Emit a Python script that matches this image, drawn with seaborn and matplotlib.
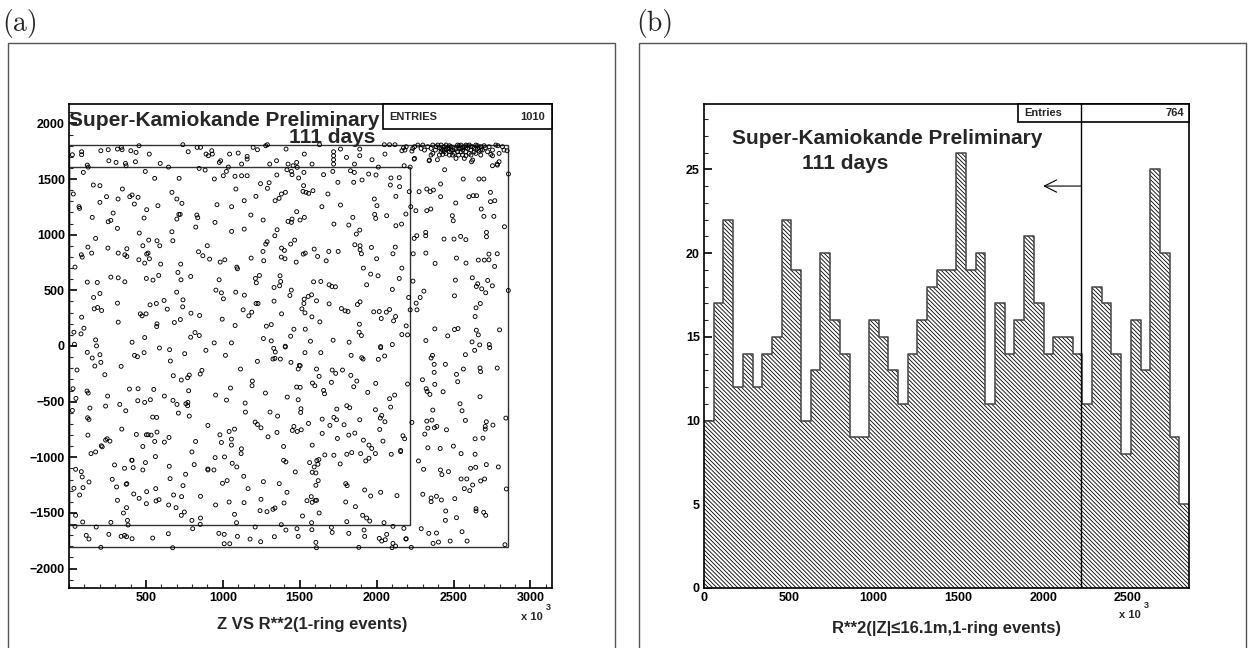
import numpy as np
import pandas as pd
import matplotlib
matplotlib.use("Agg")
import matplotlib.pyplot as plt
import seaborn as sns
from matplotlib.patches import Rectangle
from matplotlib.ticker import MultipleLocator

# ---------------- data ----------------
# Panel (a): events (R**2 [x10^3 cm^2], Z [cm]), by region
events_top = [
(22,1719),(82,1746),(82,1719),(207,1755),(255,1764),(315,1770),(341,1785),(345,1764),(402,1755),(436,1740),
(455,1800),(522,1725),(740,1809),(775,1746),(833,1785),(855,1785),(891,1725),(906,1710),(928,1755),(932,1725),
(1044,1725),(1100,1734),(1158,1704),(1158,1680),(1197,1785),(1225,1764),(1279,1800),(1290,1809),(1411,1770),
(1530,1725),(1629,1809),(1720,1746),(1720,1710),(1765,1770),(1804,1695),(1890,1770),(1890,1710),(2054,1725),
(2050,1809),(2084,1809),(2119,1809),(2164,1755),(2848,1755),(2788,1800),
(119,1626),(125,1608),(259,1665),(306,1650),(367,1641),(371,1620),(432,1656),(593,1641),(647,1608),(846,1596),
(885,1581),(977,1650),(986,1665),(1036,1608),(1122,1635),(1305,1635),(1349,1665),(1424,1635),(1457,1620),
(1480,1650),(1484,1605),(1580,1635),(1720,1674),(1720,1635),(1856,1635),(1970,1674),(2011,1608),(2179,1620),
(2218,1608),(2244,1680),(2341,1665),(2395,1674),(2442,1584),(2617,1656),(2753,1620),(2783,1635),
(93,1560),(496,1569),(557,1507),(716,1507),(945,1501),(1003,1530),(1023,1569),(1079,1525),(1122,1530),
(1158,1530),(1351,1537),(1417,1584),(1446,1569),(1450,1540),(1493,1510),(1527,1560),(1655,1540),(1715,1569),
(1830,1575),(1855,1560),(1905,1492),(1948,1546),(1996,1537),(2093,1510),(2147,1513),(2563,1501),(2665,1501),
(2697,1501),(2857,1546),
(158,1447),(201,1441),(347,1411),(669,1381),(1085,1411),(1245,1459),(1301,1468),(1290,1417),(1381,1366),
(1407,1381),(1525,1441),(1521,1390),(1541,1381),(1558,1372),(1586,1396),(1683,1366),(1748,1471),(1851,1471),
(2089,1447),(2149,1432),(2212,1387),(2276,1387),(2326,1411),(2348,1387),(2369,1402),(2416,1456),(2416,1342),
(2600,1342),(2628,1351),(2650,1351),(2740,1381),(2740,1297),(2768,1306),(28,1366),(244,1342),(395,1342),
(410,1357),(449,1336),(319,1321),(201,1291),(701,1321),(734,1282),(962,1270),(1057,1252),(1139,1306),
(1215,1345),(1340,1306),(1366,1327),(1644,1252),(1765,1267),(1985,1321),(2002,1261),(2125,1345),(2222,1252),
(2514,1285),(2680,1231),(65,1252),(69,1237),(425,1276),(578,1261),(505,1225),(287,1195),(151,1156),(255,1117),
(272,1129),(488,1150),(315,1057),(457,1015),(701,1141),(714,1183),(723,1183),(831,1177),(837,1153),(824,1069),
(949,1111),(1057,1030),(1139,1051),(1182,1177),(1262,1132),(1353,1045),(1338,991),(1424,1120),(1450,1141),
(1446,1111),(1480,1207),(1502,1132),(1530,1156),(1722,1096),(1845,1156),(1819,1087),(1868,1006),(1890,1042),
(1987,1183),(1994,1147),(2065,1171),(2125,1081),(2162,1096),(2190,1186),(2255,1216),(2326,1216),(2352,1231),
(2492,1171),(2498,1126),(2546,985),(2580,956),(2244,967),(2261,991),(2319,1021),(2319,991),(2438,961),
(2503,961),(2697,1165),(2762,1165),(2831,1072),(2714,1021),(2714,982),(173,967),(518,952),(572,946),(675,946),
(1288,937),(1467,952),(669,1027)]

events_cluster = [
(2175,1782),(2192,1791),(2184,1761),(2235,1776),(2246,1791),(2229,1752),(2268,1806),(2289,1776),(2300,1806),
(2311,1761),(2246,1686),(2332,1791),(2354,1776),(2365,1806),(2382,1761),(2365,1731),(2354,1716),(2343,1671),
(2397,1806),(2408,1782),(2419,1806),(2429,1761),(2440,1791),(2451,1806),(2462,1776),(2473,1746),(2483,1791),
(2494,1761),(2494,1716),(2505,1731),(2516,1686),(2505,1776),(2526,1806),(2537,1776),(2548,1806),(2548,1746),
(2559,1761),(2570,1791),(2580,1806),(2580,1746),(2591,1776),(2602,1806),(2602,1731),(2613,1761),(2624,1791),
(2634,1746),(2645,1806),(2656,1776),(2667,1752),(2677,1791),(2688,1761),(2706,1782),(2721,1746),(2731,1791),
(2753,1761),(2775,1806),(2796,1731),(2818,1791),(2828,1761),(2408,1716),(2429,1722),(2440,1746),(2451,1731),
(2473,1716),(2533,1716),(2559,1716),(2570,1686),(2580,1710),(2613,1716),(2624,1671),(2677,1716),(2742,1722),
(2753,1710),(2796,1656),(2785,1626),(2386,1791),(2419,1770),(2451,1770),(2473,1800),(2516,1770),(2537,1800),
(2559,1782),(2580,1782),(2613,1791),(2634,1776),(2656,1800),(2677,1761),(2699,1800),(2645,1731),(2526,1746),
(2483,1761),(2419,1746),(2548,1776),(2667,1782),(2591,1800),(2473,1776),(2440,1770)]

events_upper_mid = [
(123,889),(253,880),(376,874),(480,901),(590,901),(899,901),(1279,916),(1382,880),(1400,859),(1441,916),
(1594,871),(1689,850),(1858,910),(1892,901),(1892,865),(1966,886),(2121,889),(80,820),(86,799),(147,835),
(320,835),(363,820),(376,805),(454,775),(492,745),(505,826),(514,835),(523,784),(596,736),(842,847),(870,811),
(914,781),(983,754),(1013,775),(1184,790),(1261,850),(1266,766),(1380,799),(1404,784),(1477,754),(1523,826),
(1536,835),(1616,805),(1672,766),(1750,850),(1901,829),(2000,784),(2106,829),(2164,700),(2238,829),(2320,835),
(2380,742),(2519,790),(2581,745),(2661,772),(2700,772),(2730,826),(2730,775),(2767,715),(2784,829),(39,709),
(119,574),(184,571),(272,619),(320,613),(363,577),(503,607),(546,592),(583,634),(708,661),(726,736),(728,595),
(791,625),(976,595),(1091,709),(1095,694),(1212,607),(1218,568),(1238,634),(1333,526),(1372,631),(1376,580),
(1369,541),(1445,502),(1590,577),(1637,580),(1691,550),(1709,535),(1732,532),(1914,700),(1935,550),(1961,646),
(2009,631),(2102,508),(2147,607),(2236,583),(2307,493),(2512,592),(2622,613),(2648,535),(2657,559),(2683,514),
(2709,478),(2722,589),(2752,541),(2856,499),(160,436),(201,472),(164,334),(186,346),(212,319),(315,385),
(527,370),(568,382),(618,409),(639,331),(700,484),(741,415),(739,352),(955,502),(991,478),(1004,424),(1084,484),
(1140,457),(1132,325),(1188,304),(1169,271),(1216,382),(1229,382),(1333,403),(1382,289),(1436,454),(1514,334),
(1527,382),(1534,298),(1529,421),(1555,445),(1577,460),(1609,406),(1579,262),(1631,217),(1691,379),(1771,337),
(1795,316),(1814,310),(1875,373),(1892,397),(1981,307),(2017,310),(2030,247),(2063,304),(2084,328),(2110,226),
(2123,265),(2208,436),(2218,325),(2257,385),(2262,325),(2283,436),(2506,451),(2646,343),(2640,265),(2674,382),
(32,124),(78,109),(97,160),(82,259),(320,214),(464,289),(475,271),(501,289),(572,199),(570,175),(492,76),
(685,211),(724,238),(793,295),(849,274),(819,121),(847,94),(791,79),(996,241),(1080,184),(1283,178),(1315,193),
(1264,67),(1315,46),(1406,-2),(1462,151),(1441,88),(1536,151),(1570,43),(1717,52),(1821,34),(1888,196),
(1886,124),(1901,94),(2026,-5),(2102,13),(2164,103),(2201,100),(2192,181),(2320,49),(2378,154),(2462,91),
(2506,148),(2529,157),(2648,142),(2661,100),(2620,37),(2670,10),(2732,13),(2799,145),(35,16),(173,55),(179,1),
(410,34),(944,28),(1056,28)]

events_lower_mid = [
(119,-57),(151,-108),(168,-180),(201,-78),(207,-147),(52,-216),(233,-258),(339,-183),(426,-84),(445,-96),
(488,-60),(588,-18),(654,-33),(659,-135),(752,-69),(890,-39),(1017,-84),(1331,-21),(1341,-54),(1326,-117),
(1339,-111),(1374,-117),(1406,-9),(1443,-147),(1534,-60),(1637,-60),(1834,-84),(1903,-105),(1912,-117),
(2011,-120),(2052,-90),(2026,-15),(2363,-84),(2354,-108),(2374,-165),(2374,-237),(2378,-345),(2447,-165),
(2577,-78),(2637,-39),(2735,-15),(2564,-207),(2519,-255),(2527,-321),(2672,-198),(2676,-231),(2784,-198),
(1225,-138),(1115,-207),(1497,-174),(1490,-207),(1503,-177),(1609,-207),(1626,-273),(1711,-216),(1734,-246),
(1778,-216),(1832,-264),(1871,-315),(1994,-336),(678,-267),(730,-306),(771,-285),(782,-261),(853,-252),
(864,-219),(26,-384),(45,-471),(117,-405),(125,-423),(251,-450),(393,-387),(449,-384),(551,-390),(778,-402),
(1050,-378),(1192,-315),(1190,-357),(1480,-369),(1503,-372),(1583,-333),(1598,-357),(1655,-399),(1661,-429),
(1706,-327),(1851,-366),(1942,-417),(2201,-342),(2298,-303),(2322,-384),(2328,-408),(2346,-435),(2432,-411),
(2672,-456),(2084,-474),(2117,-441),(953,-441),(1024,-486),(1277,-423),(1419,-459),(1490,-483),(22,-579),
(136,-558),(238,-540),(330,-525),(369,-582),(447,-492),(492,-507),(529,-483),(620,-450),(676,-489),(702,-525),
(711,-603),(760,-519),(771,-537),(773,-507),(782,-630),(1145,-513),(1147,-594),(1307,-594),(1356,-630),
(1508,-564),(1506,-597),(1741,-567),(1806,-537),(1825,-555),(1992,-573),(2033,-624),(2024,-648),(2054,-681),
(2091,-549),(2365,-576),(2542,-519),(2555,-582),(2577,-669),(121,-645),(130,-660),(123,-801),(248,-834),
(210,-897),(216,-906),(238,-846),(266,-855),(343,-747),(438,-795),(480,-903),(503,-798),(514,-798),(534,-801),
(544,-639),(570,-642),(572,-774),(557,-858),(620,-864),(650,-822),(823,-858),(903,-714),(981,-798),(991,-867),
(1041,-768),(1076,-747),(1056,-837),(1056,-891),(1121,-924),(1210,-684),(1225,-705),(1248,-735),(1294,-816),
(1352,-777),(1395,-903),(1452,-759),(1462,-723),(1484,-768),(1510,-753),(1557,-696),(1581,-891),(1646,-657),
(1646,-786),(1696,-714),(1722,-642),(1739,-663),(1745,-831),(1788,-708),(1819,-801),(1858,-783),(1890,-663),
(1914,-846),(1950,-891),(1968,-921),(2041,-855),(2020,-750),(2171,-807),(2182,-834),(2156,-939),(2229,-687),
(2313,-792),(2326,-675),(2333,-738),(2359,-666),(2376,-735),(2391,-723),(2454,-753),(2333,-915),(2413,-921),
(2499,-900),(2640,-834),(2691,-828),(2706,-747),(2713,-681),(2706,-723),(2756,-711),(2840,-648)]

events_bottom = [
(143,-967),(173,-952),(410,-1027),(562,-994),(799,-952),(950,-1003),(1011,-997),(1119,-967),(1663,-979),
(1722,-982),(1806,-973),(1838,-958),(1896,-967),(1992,-967),(2095,-973),(2156,-949),(1929,-1033),(1950,-1009),
(2549,-967),(2640,-973),(2272,-1033),(43,-1108),(80,-1129),(86,-1177),(130,-1222),(91,-1273),(32,-1279),
(69,-1339),(296,-1069),(361,-1099),(417,-1093),(408,-1027),(497,-1048),(480,-1114),(652,-1081),(657,-1192),
(814,-1066),(758,-1153),(903,-1114),(903,-1105),(942,-1114),(1061,-1054),(1091,-1087),(1136,-1171),
(1028,-1210),(998,-1234),(1395,-1027),(1410,-1042),(1471,-1132),(1564,-1048),(1594,-1087),(1611,-1030),
(1624,-1021),(1618,-1063),(1581,-1135),(1605,-1141),(1620,-1210),(1605,-1252),(1763,-1060),(2305,-1108),
(2415,-1114),(2424,-1156),(2467,-1129),(2611,-1099),(2644,-1090),(2713,-1066),(2791,-1087),(2549,-1195),
(2586,-1195),(2624,-1249),(2570,-1282),(2605,-1300),(2676,-1213),(2702,-1195),(2843,-1285),(2300,-1333),
(2354,-1366),(2354,-1399),(2389,-1351),(2421,-1384),(2508,-1372),(2646,-1462),(2646,-1483),(2696,-1495),
(2709,-1522),(2449,-1483),(2447,-1567),(2519,-1543),(2555,-1669),(2588,-1753),(2290,-1642),(2339,-1684),
(2389,-1681),(2402,-1762),(2478,-1753),(2367,-1774),(2225,-1810),(2834,-1786),(281,-1198),(309,-1267),
(372,-1243),(376,-1237),(315,-1387),(421,-1330),(456,-1369),(505,-1309),(564,-1282),(566,-1393),(585,-1381),
(503,-1417),(680,-1339),(732,-1354),(741,-1255),(855,-1351),(648,-1429),(696,-1453),(750,-1492),(730,-1522),
(799,-1567),(855,-1546),(853,-1603),(953,-1429),(1041,-1402),(1138,-1408),(1076,-1513),(1089,-1588),
(1164,-1282),(1264,-1219),(1367,-1237),(1417,-1315),(1248,-1378),(1242,-1480),(1287,-1489),(1326,-1468),
(1339,-1456),(1398,-1411),(1518,-1528),(1547,-1390),(1575,-1354),(1581,-1405),(1601,-1387),(1609,-1387),
(1626,-1501),(1577,-1588),(1799,-1237),(1808,-1255),(1799,-1402),(1862,-1444),(1806,-1579),(1909,-1522),
(1935,-1546),(1955,-1573),(1922,-1294),(1961,-1348),(2026,-1315),(2132,-1345),(2048,-1588),(2106,-1621),
(2177,-1639),(2192,-1732),(43,-1522),(89,-1582),(39,-1621),(177,-1627),(272,-1585),(380,-1567),(354,-1501),
(374,-1453),(384,-1609),(112,-1702),(130,-1735),(259,-1693),(339,-1711),(361,-1702),(374,-1714),(410,-1732),
(544,-1726),(646,-1687),(804,-1642),(974,-1684),(1009,-1693),(1009,-1777),(1045,-1777),(1095,-1711),
(1177,-1735),(1210,-1627),(1246,-1759),(1335,-1714),(1380,-1606),(1410,-1654),(1482,-1642),(1490,-1711),
(1579,-1651),(1605,-1765),(1609,-1813),(1706,-1630),(1711,-1675),(1819,-1684),(1884,-1810),(1918,-1654),
(1922,-1711),(2017,-1729),(2033,-1753),(2056,-1741),(2065,-1693),(2106,-1774),(2123,-1798),(2100,-1813),
(2190,-1735),(207,-1810),(674,-1813)]

# Panel (b): histogram counts, 50 bins over R**2 = 0 .. 2860 (x10^3)
hist_counts = [10, 17, 22, 12, 14, 12, 14, 15, 22, 19,
               10, 13, 20, 16, 14, 9, 9, 16, 15, 13,
               11, 14, 16, 18, 19, 19, 26, 19, 20, 11,
               17, 14, 16, 21, 17, 14, 15, 15, 14, 11,
               18, 17, 14, 8, 16, 13, 25, 20, 9, 5]
hist_range = (0, 2860)
fiducial_r2 = 2225
n_entries_a = 1010
n_entries_b = 764

# ---------------- style ----------------
sns.set_style("ticks")
plt.rcParams['font.family'] = ['Liberation Sans', 'DejaVu Sans']
plt.rcParams['font.weight'] = 'bold'
plt.rcParams['hatch.color'] = 'black'
plt.rcParams['hatch.linewidth'] = 0.6

W, H = 1249, 648
fig = plt.figure(figsize=(W / 100, H / 100), dpi=100)

def fx(px):
    return px / W

def fy(py):
    return 1 - py / H

ax1 = fig.add_axes([fx(69), fy(588), fx(552) - fx(69), fy(104) - fy(588)])
ax2 = fig.add_axes([fx(704), fy(588), fx(1189) - fx(704), fy(104) - fy(588)])

# panel frames
for x0, x1 in [(8, 615), (639, 1246)]:
    fig.add_artist(Rectangle((fx(x0), -0.01), fx(x1) - fx(x0), fy(43) + 0.01,
                             transform=fig.transFigure, fill=False, ec='#555555', lw=1.0))
fig.text(fx(2), fy(23), '(a)', family='cmr10', fontsize=20, fontweight='normal', ha='left', va='center')
fig.text(fx(636), fy(23), '(b)', family='cmr10', fontsize=20, fontweight='normal', ha='left', va='center')

# ---------------- panel (a) ----------------
ev = pd.DataFrame(events_top + events_cluster + events_upper_mid + events_lower_mid + events_bottom,
                  columns=['r2', 'z'])
sns.scatterplot(data=ev, x='r2', y='z', ax=ax1, marker='o', s=8, facecolor='none',
                edgecolor='black', linewidth=0.65, legend=False, zorder=3)
ax1.set_xlim(0, 3140)
ax1.set_ylim(-2175, 2175)
ax1.add_patch(Rectangle((0, -1810), 2856, 3620, fill=False, ec='#333333', lw=1.0, zorder=2))
ax1.add_patch(Rectangle((0, -1610), 2220, 3220, fill=False, ec='#333333', lw=1.0, zorder=2))
ax1.set_xticks([500, 1000, 1500, 2000, 2500, 3000])
ax1.set_yticks([-2000, -1500, -1000, -500, 0, 500, 1000, 1500, 2000])
ax1.xaxis.set_minor_locator(MultipleLocator(100))
ax1.yaxis.set_minor_locator(MultipleLocator(100))
ax1.set_xlabel('')
ax1.set_ylabel('')
ax1.add_patch(Rectangle((2042, 1950), 3140 - 2042, 2175 - 1950, fc='white', ec='black', lw=1.2, zorder=5,
                        clip_on=False))
ax1.text(2080, 2062, 'ENTRIES', fontsize=8, ha='left', va='center', zorder=6)
ax1.text(3095, 2062, str(n_entries_a), fontsize=8, ha='right', va='center', zorder=6)
ax1.text(0, 2030, 'Super-Kamiokande Preliminary', fontsize=15, ha='left', va='center', zorder=6)
ax1.text(1990, 1878, '111 days', fontsize=15, ha='right', va='center', zorder=6)

# ---------------- panel (b) ----------------
nb = len(hist_counts)
bw = (hist_range[1] - hist_range[0]) / nb
centers = [hist_range[0] + bw * (i + 0.5) for i in range(nb)]
hd = pd.DataFrame({'r2': centers, 'n': hist_counts})
sns.histplot(data=hd, x='r2', weights='n', bins=nb, binrange=hist_range, ax=ax2,
             element='step', fill=True, color='white', edgecolor='black', linewidth=0,
             hatch='\\' * 8, alpha=1)
sns.histplot(data=hd, x='r2', weights='n', bins=nb, binrange=hist_range, ax=ax2,
             element='step', fill=False, color='#444444', linewidth=1.1)
ax2.set_xlim(*hist_range)
ax2.set_ylim(0, 28.9)
ax2.set_xticks([0, 500, 1000, 1500, 2000, 2500])
ax2.set_yticks([0, 5, 10, 15, 20, 25])
ax2.xaxis.set_minor_locator(MultipleLocator(100))
ax2.yaxis.set_minor_locator(MultipleLocator(1))
ax2.set_xlabel('')
ax2.set_ylabel('')
ax2.axvline(fiducial_r2, color='black', lw=1.0, zorder=4)
ax2.add_patch(Rectangle((1853, 27.82), 2860 - 1853, 28.9 - 27.82, fc='white', ec='black', lw=1.2,
                        zorder=5, clip_on=False))
ax2.plot([fiducial_r2, fiducial_r2], [27.82, 28.9], color='black', lw=1.0, zorder=6)
ax2.text(2000, 28.36, 'Entries', fontsize=8, ha='center', va='center', zorder=6)
ax2.text(2830, 28.36, str(n_entries_b), fontsize=8, ha='right', va='center', zorder=6)
ax2.text(1081, 26.85, 'Super-Kamiokande Preliminary', fontsize=15, ha='center', va='center', zorder=6)
ax2.text(830, 25.36, '111 days', fontsize=15, ha='center', va='center', zorder=6)
ax2.annotate('', xy=(2000, 24), xytext=(fiducial_r2, 24),
             arrowprops=dict(arrowstyle='->', lw=0.8, color='black', mutation_scale=22,
                             shrinkA=0, shrinkB=0), zorder=6)

for ax in (ax1, ax2):
    for sp in ax.spines.values():
        sp.set_visible(True)
        sp.set_color('black')
        sp.set_linewidth(1.2)
    ax.tick_params(which='major', direction='in', length=6, width=1.2, labelsize=9, pad=3,
                   top=False, right=False, colors='black')
    ax.tick_params(which='minor', direction='in', length=3, width=0.8, top=False, right=False)
    for lab in ax.get_xticklabels() + ax.get_yticklabels():
        lab.set_fontweight('bold')

# axis titles and exponent labels
fig.text(fx(312), fy(625), 'Z VS R**2(1-ring events)', fontsize=12, ha='center', va='center')
fig.text(fx(946), fy(628), 'R**2(|Z|\u226416.1m,1-ring events)', fontsize=12, ha='center', va='center')
fig.text(fx(543), fy(617), 'x 10', fontsize=8, ha='right', va='center')
fig.text(fx(546), fy(608), '3', fontsize=6.5, ha='left', va='center')
fig.text(fx(1141), fy(615), 'x 10', fontsize=8, ha='right', va='center')
fig.text(fx(1144), fy(606), '3', fontsize=6.5, ha='left', va='center')

fig.savefig('out.png', dpi=100)
